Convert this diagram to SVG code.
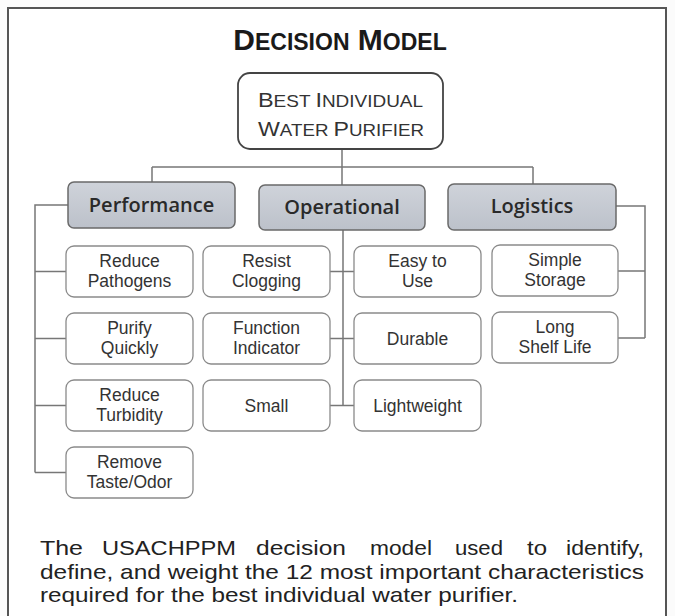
<svg xmlns="http://www.w3.org/2000/svg" width="675" height="616" viewBox="0 0 675 616">
<defs>
<linearGradient id="catg" x1="0" y1="0" x2="0" y2="1">
<stop offset="0" stop-color="#cfd3da"/>
<stop offset="1" stop-color="#bcc1ca"/>
</linearGradient>
</defs>
<style>
.frame{fill:#fff;stroke:#555;stroke-width:2}
.root{fill:#fff;stroke:#444;stroke-width:1.8}
.cat{fill:url(#catg);stroke:#6a6a6a;stroke-width:1.5}
.leaf{fill:#fff;stroke:#8a8a8a;stroke-width:1.3}
.ln{fill:none;stroke:#777;stroke-width:1.5}
.title{font-family:"Liberation Sans",Arial,sans-serif;font-weight:bold;fill:#1a1a1a;text-anchor:middle}
.rt{font-family:"Liberation Sans",Arial,sans-serif;fill:#333;text-anchor:middle}
.ct{font-family:"Open Sans","Noto Sans",sans-serif;font-weight:600;font-size:20px;fill:#2a2a2a;text-anchor:middle}
.lt{font-family:"Liberation Sans",Arial,sans-serif;font-size:17.5px;fill:#333;text-anchor:middle}
.cap{font-family:"Liberation Sans",Arial,sans-serif;font-size:21px;fill:#222}
</style>
<rect width="675" height="616" fill="#fbfbfb"/>
<rect class="frame" x="8" y="8" width="658" height="620"/>

<g id="title">
<text class="title" x="340" y="50"><tspan font-size="30">D</tspan><tspan font-size="23">ECISION</tspan><tspan font-size="30"> M</tspan><tspan font-size="23">ODEL</tspan></text>
</g>

<g id="connectors">
<path class="ln" d="M342 149V167M152 167H533M152 167V182M342 167V185M533 167V184"/>
<path class="ln" d="M68 205H35V472.5M35 271.5H66M35 338.5H66M35 405.5H66M35 472.5H66"/>
<path class="ln" d="M343 230V405.5M330 271.5H354M330 338.5H354M330 405.5H354"/>
<path class="ln" d="M616 206H645V338M618 271H645M618 338H645"/>
</g>

<g id="root">
<rect class="root" x="238" y="73" width="205" height="76" rx="12"/>
<text class="rt" x="340.5" y="107" textLength="165" lengthAdjust="spacingAndGlyphs"><tspan font-size="21">B</tspan><tspan font-size="17">EST </tspan><tspan font-size="21">I</tspan><tspan font-size="17">NDIVIDUAL</tspan></text>
<text class="rt" x="341" y="136" textLength="166" lengthAdjust="spacingAndGlyphs"><tspan font-size="21">W</tspan><tspan font-size="17">ATER </tspan><tspan font-size="21">P</tspan><tspan font-size="17">URIFIER</tspan></text>
</g>

<g id="performance">
<rect class="cat" x="68" y="182" width="167" height="46" rx="6"/>
<text class="ct" x="151.5" y="212">Performance</text>
</g>
<g id="operational">
<rect class="cat" x="259" y="185" width="166" height="45" rx="6"/>
<text class="ct" x="342" y="214">Operational</text>
</g>
<g id="logistics">
<rect class="cat" x="448" y="184" width="168" height="46" rx="6"/>
<text class="ct" x="532" y="213">Logistics</text>
</g>

<g id="reduce-pathogens">
<rect class="leaf" x="66" y="246" width="127" height="51" rx="8"/>
<text class="lt" x="129.5" y="267">Reduce</text><text class="lt" x="129.5" y="287">Pathogens</text>
</g>
<g id="purify-quickly">
<rect class="leaf" x="66" y="313" width="127" height="51" rx="8"/>
<text class="lt" x="129.5" y="334">Purify</text><text class="lt" x="129.5" y="354">Quickly</text>
</g>
<g id="reduce-turbidity">
<rect class="leaf" x="66" y="380" width="127" height="51" rx="8"/>
<text class="lt" x="129.5" y="401">Reduce</text><text class="lt" x="129.5" y="421">Turbidity</text>
</g>
<g id="remove-taste">
<rect class="leaf" x="66" y="447" width="127" height="51" rx="8"/>
<text class="lt" x="129.5" y="468">Remove</text><text class="lt" x="129.5" y="488">Taste/Odor</text>
</g>

<g id="resist-clogging">
<rect class="leaf" x="203" y="246" width="127" height="51" rx="8"/>
<text class="lt" x="266.5" y="267">Resist</text><text class="lt" x="266.5" y="287">Clogging</text>
</g>
<g id="function-indicator">
<rect class="leaf" x="203" y="313" width="127" height="51" rx="8"/>
<text class="lt" x="266.5" y="334">Function</text><text class="lt" x="266.5" y="354">Indicator</text>
</g>
<g id="small">
<rect class="leaf" x="203" y="380" width="127" height="51" rx="8"/>
<text class="lt" x="266.5" y="412">Small</text>
</g>

<g id="easy-to-use">
<rect class="leaf" x="354" y="246" width="127" height="51" rx="8"/>
<text class="lt" x="417.5" y="267">Easy to</text><text class="lt" x="417.5" y="287">Use</text>
</g>
<g id="durable">
<rect class="leaf" x="354" y="313" width="127" height="51" rx="8"/>
<text class="lt" x="417.5" y="345">Durable</text>
</g>
<g id="lightweight">
<rect class="leaf" x="354" y="380" width="127" height="51" rx="8"/>
<text class="lt" x="417.5" y="412">Lightweight</text>
</g>

<g id="simple-storage">
<rect class="leaf" x="492" y="245" width="126" height="51" rx="8"/>
<text class="lt" x="555" y="266">Simple</text><text class="lt" x="555" y="286">Storage</text>
</g>
<g id="long-shelf-life">
<rect class="leaf" x="492" y="312" width="126" height="51" rx="8"/>
<text class="lt" x="555" y="333">Long</text><text class="lt" x="555" y="353">Shelf Life</text>
</g>

<g id="caption">
<text class="cap" x="40" y="555" textLength="43" lengthAdjust="spacingAndGlyphs">The</text>
<text class="cap" x="102" y="555" textLength="134" lengthAdjust="spacingAndGlyphs">USACHPPM</text>
<text class="cap" x="256" y="555" textLength="90" lengthAdjust="spacingAndGlyphs">decision</text>
<text class="cap" x="370" y="555" textLength="62" lengthAdjust="spacingAndGlyphs">model</text>
<text class="cap" x="455" y="555" textLength="48" lengthAdjust="spacingAndGlyphs">used</text>
<text class="cap" x="527" y="555" textLength="20" lengthAdjust="spacingAndGlyphs">to</text>
<text class="cap" x="566" y="555" textLength="78" lengthAdjust="spacingAndGlyphs">identify,</text>
<text class="cap" x="40" y="578.5" textLength="604" lengthAdjust="spacingAndGlyphs">define, and weight the 12 most important characteristics</text>
<text class="cap" x="40" y="602" textLength="478" lengthAdjust="spacingAndGlyphs">required for the best individual water purifier.</text>
</g>
</svg>
